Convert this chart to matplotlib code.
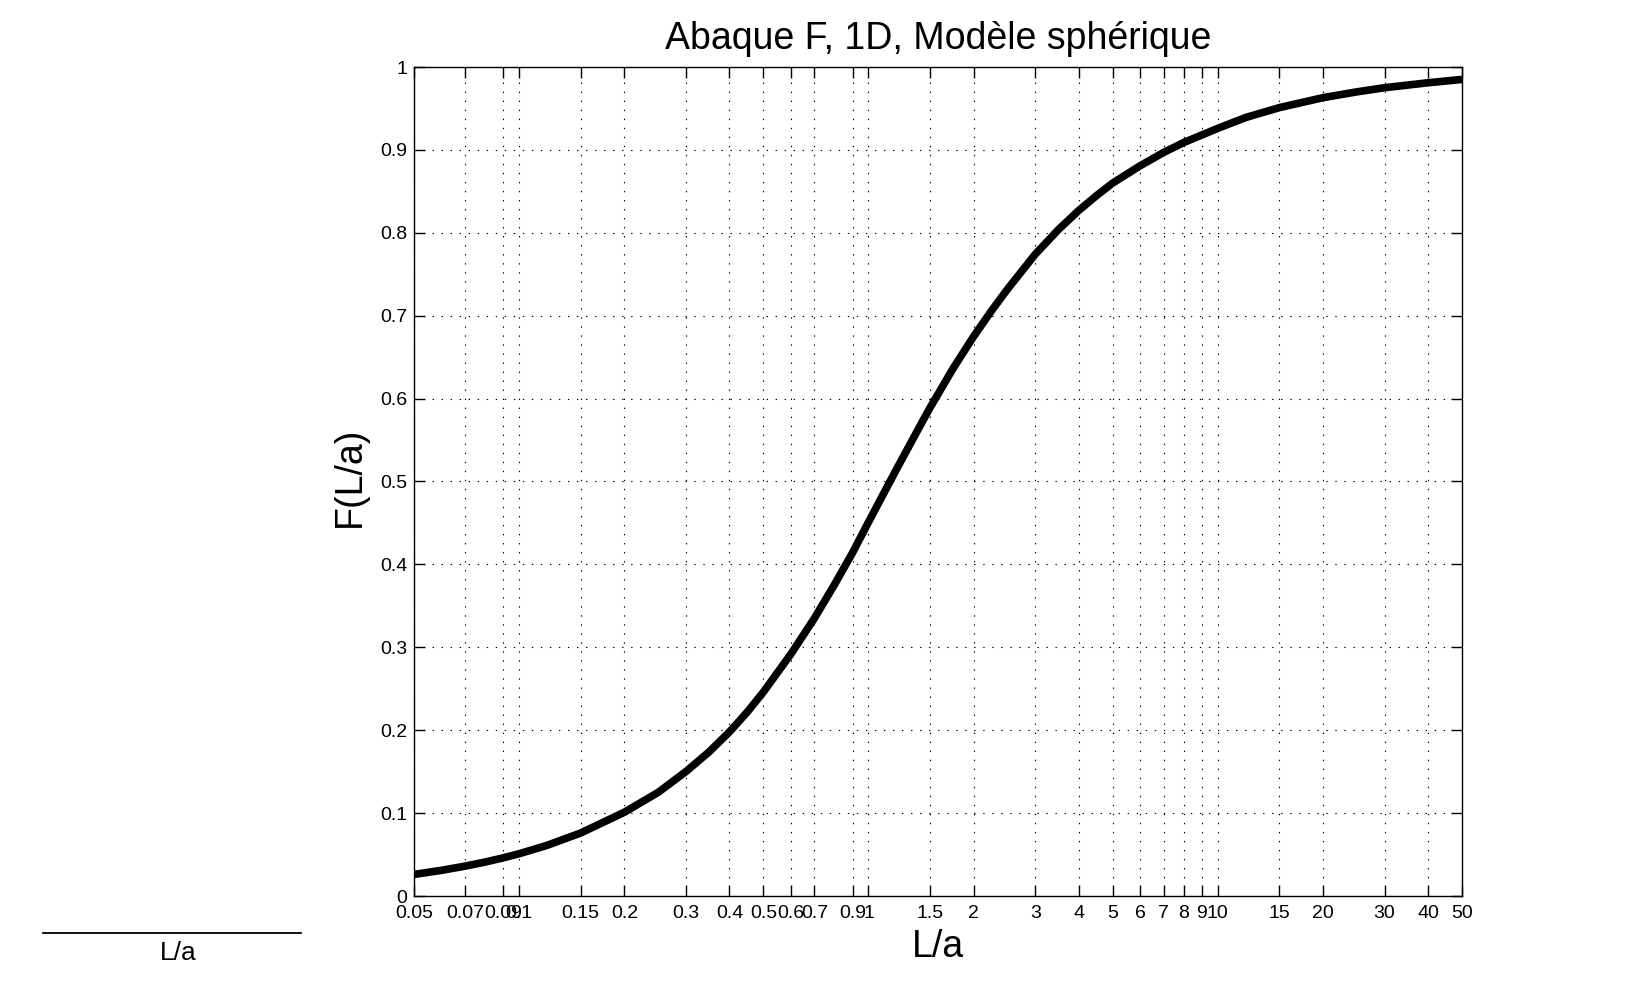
import matplotlib
matplotlib.use('Agg')
import matplotlib.pyplot as plt
from matplotlib.lines import Line2D
from matplotlib.ticker import FixedLocator, FixedFormatter, NullLocator

plt.rcParams['font.family'] = ['Liberation Sans', 'DejaVu Sans']
plt.rcParams['lines.scale_dashes'] = False

# values
L_over_a = [0.05, 0.06, 0.07, 0.08, 0.09, 0.1, 0.12, 0.15, 0.2, 0.25, 0.3, 0.35,
            0.4, 0.45, 0.5, 0.6, 0.7, 0.8, 0.9, 1.0, 1.1, 1.2, 1.3, 1.4, 1.5,
            1.75, 2.0, 2.25, 2.5, 3.0, 3.5, 4.0, 4.5, 5.0, 6.0, 7.0, 8.0, 9.0,
            10.0, 12.0, 15.0, 20.0, 25.0, 30.0, 40.0, 50.0]
F_values = [0.026, 0.031, 0.036, 0.041, 0.046, 0.051, 0.061, 0.076, 0.101, 0.125,
            0.150, 0.174, 0.198, 0.222, 0.246, 0.292, 0.335, 0.376, 0.414, 0.451,
            0.484, 0.514, 0.541, 0.566, 0.589, 0.637, 0.675, 0.706, 0.732, 0.774,
            0.804, 0.827, 0.845, 0.860, 0.881, 0.897, 0.909, 0.918, 0.926, 0.939,
            0.951, 0.963, 0.970, 0.975, 0.981, 0.985]

xticks = [0.05, 0.07, 0.09, 0.1, 0.15, 0.2, 0.3, 0.4, 0.5, 0.6, 0.7, 0.9, 1,
          1.5, 2, 3, 4, 5, 6, 7, 8, 9, 10, 15, 20, 30, 40, 50]
xticklabels = ['0.05', '0.07', '0.09', '0.1', '0.15', '0.2', '0.3', '0.4', '0.5',
               '0.6', '0.7', '0.9', '1', '1.5', '2', '3', '4', '5', '6', '7', '8',
               '9', '10', '15', '20', '30', '40', '50']
yticks = [0, 0.1, 0.2, 0.3, 0.4, 0.5, 0.6, 0.7, 0.8, 0.9, 1]
yticklabels = ['0', '0.1', '0.2', '0.3', '0.4', '0.5', '0.6', '0.7', '0.8', '0.9', '1']

W, H = 1630, 997
fig = plt.figure(figsize=(W / 100, H / 100), dpi=100)
ax = fig.add_axes([414 / W, (H - 896) / H, 1048 / W, 829 / H])

ax.plot(L_over_a, F_values, color='k', lw=5.5, solid_capstyle='butt',
        solid_joinstyle='round', zorder=3)
ax.set_xscale('log')
ax.set_xlim(0.05, 50)
ax.set_ylim(0, 1)

ax.xaxis.set_major_locator(FixedLocator(xticks))
ax.xaxis.set_major_formatter(FixedFormatter(xticklabels))
ax.xaxis.set_minor_locator(NullLocator())
ax.yaxis.set_major_locator(FixedLocator(yticks))
ax.yaxis.set_major_formatter(FixedFormatter(yticklabels))

ax.grid(True, which='major', color='k', linestyle=(0, (1.0, 5.5)), linewidth=0.8)
ax.tick_params(direction='in', top=True, right=True, length=8, width=1,
               labelsize=14)
ax.tick_params(axis='x', pad=6.5)
ax.tick_params(axis='y', pad=5)
for s in ax.spines.values():
    s.set_linewidth(1)

ax.set_title('Abaque F, 1D, Modèle sphérique', fontsize=27, pad=13)
ax.set_xlabel('L/a', fontsize=27)
ax.set_ylabel('F(L/a)', fontsize=27)
ax.xaxis.set_label_coords(0.5, -0.040)
ax.yaxis.set_label_coords(-0.0437, 0.506)

fig.add_artist(Line2D([43 / W, 301 / W], [1 - 933 / H, 1 - 933 / H],
                      color='k', lw=1.3, transform=fig.transFigure))
fig.text(178 / W, 1 - 953 / H, 'L/a', ha='center', va='center', fontsize=19)

fig.savefig('out.png', dpi=100)
